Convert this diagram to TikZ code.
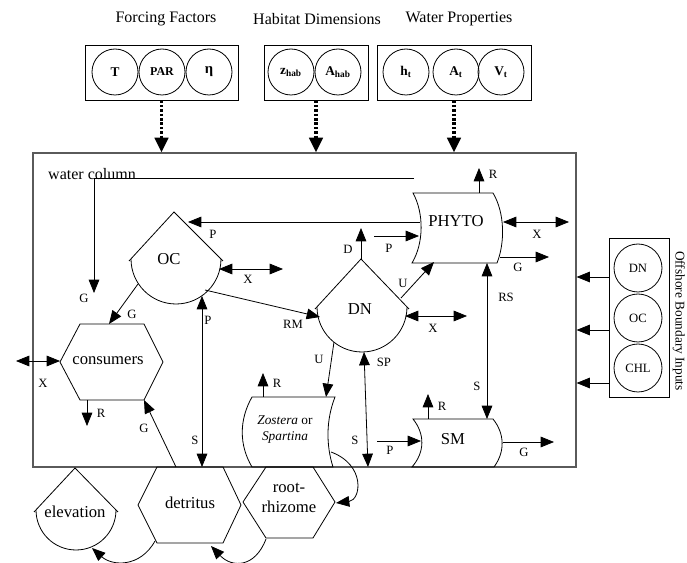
\documentclass[tikz,border=0pt]{standalone}
\usepackage{fontspec}
\setmainfont{Liberation Serif}
\usepackage{tikz}
\usetikzlibrary{arrows.meta,positioning,calc}
\definecolor{wcgray}{RGB}{90,90,90}

\begin{document}
\begin{tikzpicture}[x=0.75pt,y=-0.75pt,line width=0.6pt,
  every node/.style={font=\fontsize{9.5}{11}\selectfont,inner sep=1pt},
  hd/.style={font=\fontsize{12}{14}\selectfont},
  nm/.style={font=\fontsize{12.5}{15}\selectfont,align=center,inner sep=0pt},
  grp/.style={draw,minimum height=41.25pt,inner sep=0pt},
  var/.style={draw,circle,minimum size=34.5pt,inner sep=0pt,
    font=\fontsize{10}{12}\selectfont\bfseries},
  bnd/.style={draw,circle,minimum size=36pt,inner sep=0pt},
  tip/.style={-{Triangle[length=10pt,width=8pt]}},
  tips/.style={{Triangle[length=10pt,width=8pt]}-{Triangle[length=10pt,width=8pt]}},
  feed/.style={line width=2.4pt,dash pattern=on 2pt off 1.3pt,
    -{Triangle[length=11pt,width=10pt]}}]
\useasboundingbox (0,0) rectangle (687,563);

% external drivers
\node[hd] (tff) at (166,19) {Forcing Factors};
\node[hd] (thd) at (317,19) {Habitat Dimensions};
\node[hd] (twp) at (459,19) {Water Properties};
\node[grp,minimum width=114.75pt] (ffbox) at (161.5,72.5) {};
\node[grp,minimum width=78pt] (hdbox) at (316,72.5) {};
\node[grp,minimum width=115.5pt] (wpbox) at (454,72.5) {};
\node[var] (vT) at (115,72) {T};
\node[var,font=\fontsize{9}{10}\selectfont\bfseries] (vPAR) at (162,72) {PAR};
\node[var,font=\fontsize{11}{12}\selectfont\bfseries] (veta) at (209,72) {η};
\node[var] (vz) at (291,72) {z\textsubscript{hab}};
\node[var] (vA) at (338,72) {A\textsubscript{hab}};
\node[var] (vh) at (406,72) {h\textsubscript{t}};
\node[var] (vAt) at (456,72) {A\textsubscript{t}};
\node[var] (vV) at (501,72) {V\textsubscript{t}};

% water column box
\node[draw=wcgray,line width=0.9pt,minimum width=407.25pt,
  minimum height=235.5pt,inner sep=0pt] (wc) at (304.5,310) {};
\draw[feed] (ffbox.south) -- (ffbox.south |- wc.north);
\draw[feed] (hdbox.south) -- (hdbox.south |- wc.north);
\draw[feed] (wpbox.south) -- (wpbox.south |- wc.north);
\node[hd] (wclab) at (92,174) {water column};

% offshore boundary
\node[draw,minimum width=45pt,minimum height=119.25pt,inner sep=0pt]
  (obox) at (639,317.5) {};
\node[bnd] (oDN) at (638,268) {DN};
\node[bnd] (oOC) at (638,318) {OC};
\node[bnd] (oCHL) at (638,368) {CHL};
\node[rotate=-90,inner sep=0pt,font=\fontsize{10}{12}\selectfont] (olab)
  at (679,321) {Offshore Boundary Inputs};
\foreach \yy in {277,330,383}
  \draw[tip] (obox.west |- 0,\yy) -- (wc.east |- 0,\yy);

% compartments
\node[nm] (oc) at (169,259) {OC};
\draw (129,261) -- (174,212) -- (223,261);
\draw (131,259) arc[start angle=180,end angle=0,radius=45];
\node[nm] (dn) at (360,309) {DN};
\draw (315,309) -- (361,259) -- (409,309);
\draw (317,307) arc[start angle=180,end angle=0,radius=45];
\node[nm] (elev) at (75,512) {elevation};
\draw (34,512) -- (75,468) -- (118,512);
\draw (36,510) arc[start angle=180,end angle=0,radius=40];
\node[nm] (phyto) at (456,221) {PHYTO};
\draw (413,193) -- (493,193) .. controls (505,213) and (505,243) .. (497,263)
  -- (412,263) .. controls (424,243) and (424,213) .. (413,193) -- cycle;
\node[nm] (sm) at (453,439) {SM};
\draw (413,419) -- (493,419) .. controls (505,434) and (505,452) .. (494,467)
  -- (412,467) .. controls (425,452) and (425,434) .. (413,419) -- cycle;
\node[align=center,font=\fontsize{10}{12}\selectfont] (zos) at (285,430)
  {\textit{Zostera} or\\\textit{Spartina}};
\draw (252,397) -- (335,397) .. controls (326,420) and (326,445) .. (333,467)
  -- (252,467) .. controls (239,445) and (239,420) .. (252,397) -- cycle;
\node[nm] (cons) at (108,361) {consumers};
\draw (60,362) -- (80,324) -- (144,324) -- (163,362) -- (144,400)
  -- (80,400) -- cycle;
\node[nm] (detr) at (190,503) {detritus};
\draw (138,505) -- (157,467) -- (223,467) -- (241,505) -- (223,543)
  -- (157,543) -- cycle;
\node[nm] (root) at (289,498) {root-\\rhizome};
\draw (243,502) -- (266,467) -- (313,467) -- (335,502) -- (313,538)
  -- (266,538) -- cycle;

% connector ends
\coordinate (wcA) at (414,178); \coordinate (wcB) at (94,178);
\coordinate (wcG) at (94,293);
\coordinate (phW) at (420,222); \coordinate (ocP) at (188,222);
\coordinate (dnTop) at (361,259); \coordinate (dnD) at (361,228);
\coordinate (phP0) at (374,236); \coordinate (phP) at (419,236);
\coordinate (dnU) at (401,298); \coordinate (phU) at (434,262);
\coordinate (ocX0) at (219,269); \coordinate (ocX) at (283,269);
\coordinate (dnX0) at (405,316); \coordinate (dnX) at (467,316);
\coordinate (phX0) at (503,222); \coordinate (phX) at (569,222);
\coordinate (phG0) at (500,257); \coordinate (phG) at (549,257);
\coordinate (phR0) at (479,193); \coordinate (phR) at (479,168);
\coordinate (ocG) at (138,284); \coordinate (consG) at (109,324);
\coordinate (ocRM) at (205,290); \coordinate (dnRM) at (320,317);
\coordinate (ocB) at (202,296); \coordinate (detrT) at (202,467);
\coordinate (dnU2) at (334,342); \coordinate (zosU) at (326,397);
\coordinate (dnB) at (364,352); \coordinate (dnS) at (368,467);
\coordinate (smP0) at (377,441); \coordinate (smP) at (421,441);
\coordinate (smG0) at (503,442); \coordinate (smG) at (554,442);
\coordinate (smR0) at (428,419); \coordinate (smR) at (428,394);
\coordinate (phB) at (487,263); \coordinate (smT) at (487,419);
\coordinate (zosR0) at (263,397); \coordinate (zosR) at (263,373);
\coordinate (consR0) at (87,400); \coordinate (consR) at (87,426);
\coordinate (consX0) at (16,361); \coordinate (consX) at (60,361);
\coordinate (detrG) at (176,467); \coordinate (consB) at (144,400);

\draw[tip] (wcA) -- (wcB) -- (wcG);
\draw[tip] (phW) -- (ocP);
\draw[tip] (dnTop) -- (dnD);
\draw[tip] (phP0) -- (phP);
\draw[tip] (dnU) -- (phU);
\draw[tips] (ocX0) -- (ocX);
\draw[tips] (dnX0) -- (dnX);
\draw[tips] (phX0) -- (phX);
\draw[tip] (phG0) -- (phG);
\draw[tip] (phR0) -- (phR);
\draw[tip] (ocG) -- (consG);
\draw[tip] (ocRM) -- (dnRM);
\draw[tips] (ocB) -- (detrT);
\draw[tip] (dnU2) -- (zosU);
\draw[tips] (dnB) -- (dnS);
\draw[tip] (smP0) -- (smP);
\draw[tip] (smG0) -- (smG);
\draw[tip] (smR0) -- (smR);
\draw[tips] (phB) -- (smT);
\draw[tip] (zosR0) -- (zosR);
\draw[tip] (consR0) -- (consR);
\draw[tips] (consX0) -- (consX);
\draw[tip] (detrG) -- (consB);
\draw[tip] (331,452) .. controls (366,465) and (361,500) .. (336,503);
\draw[tip] (266,539) .. controls (255,568) and (232,568) .. (211,546);
\draw[tip] (155,541) .. controls (140,568) and (112,566) .. (92,548);

% flow labels
\foreach \x/\y/\t [count=\k] in {84/298/G,213/234/P,348/249/D,389/248/P,
  403/283/U,248/279/X,433/328/X,537/234/X,518/267/G,493/174/R,132/314/G,
  293/324/RM,208/320/P,195/440/S,319/359/U,384/362/SP,355/440/S,390/450/P,
  524/452/G,442/406/R,506/297/RS,477/386/S,277/383/R,101/413/R,43/383/X,
  144/428/G}
  \node (fl\k) at (\x,\y) {\t};
\end{tikzpicture}
\end{document}
